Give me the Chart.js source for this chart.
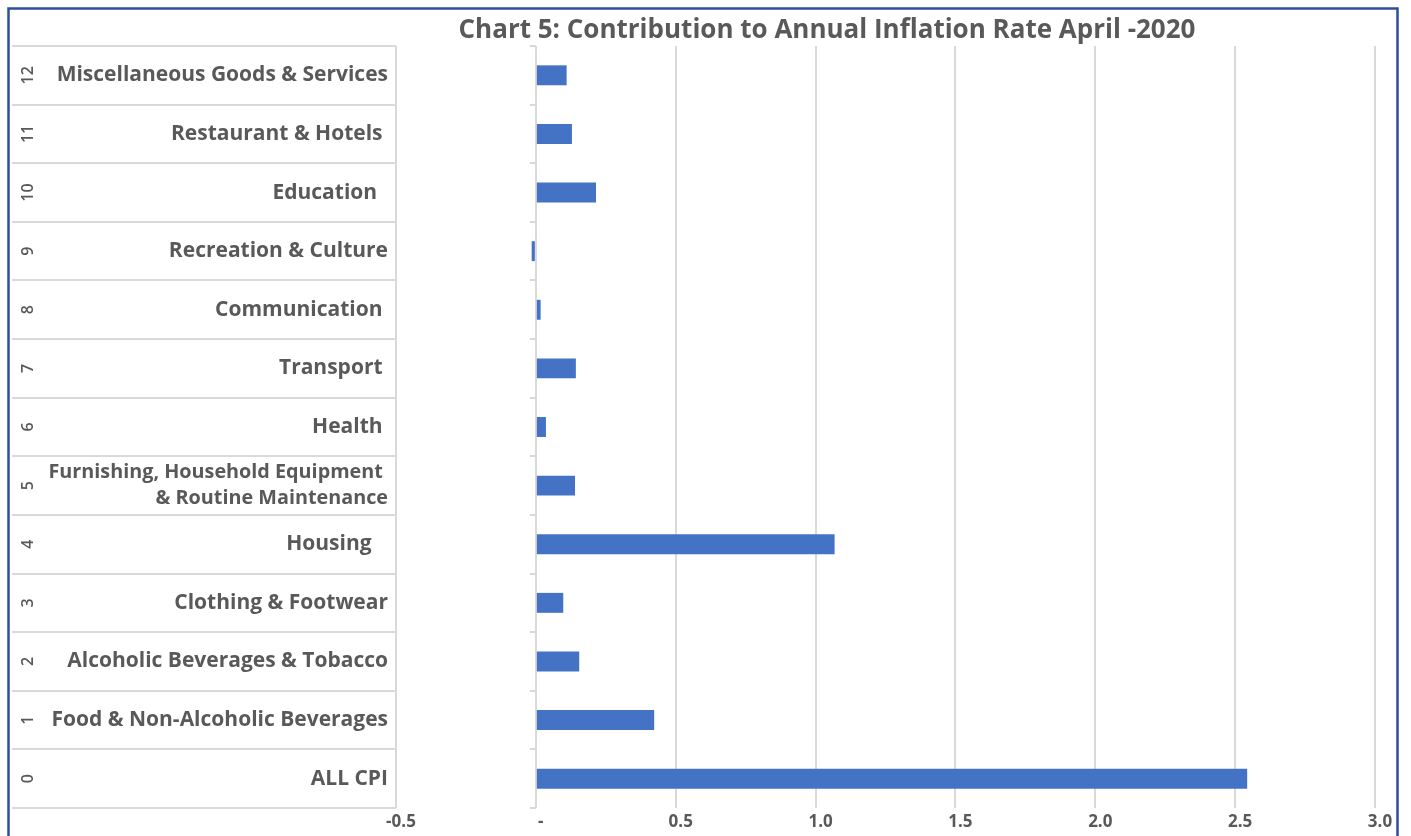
<!DOCTYPE html>
<html>
<head>
<meta charset="utf-8">
<script src="https://cdn.jsdelivr.net/npm/chart.js@4.4.1/dist/chart.umd.min.js"></script>
<style>
  html, body { margin: 0; padding: 0; background: #ffffff; }
  #wrap { width: 1411px; height: 836px; position: relative; }
</style>
</head>
<body>
<div id="wrap"><canvas id="c" width="1411" height="836"></canvas></div>
<script>
// ---- data ----
const chartTitle = 'Chart 5: Contribution to Annual Inflation Rate April -2020';
const rowNumbers = ['0', '1', '2', '3', '4', '5', '6', '7', '8', '9', '10', '11', '12'];
const categories = [
  'ALL CPI',
  'Food & Non-Alcoholic Beverages',
  'Alcoholic Beverages & Tobacco',
  'Clothing & Footwear',
  'Housing   ',
  ['Furnishing, Household Equipment ', '& Routine Maintenance'],
  'Health ',
  'Transport ',
  'Communication ',
  'Recreation & Culture',
  'Education  ',
  'Restaurant & Hotels ',
  'Miscellaneous Goods & Services'
];
const contributions = [2.543, 0.423, 0.155, 0.098, 1.068, 0.14, 0.036, 0.143, 0.017, -0.015, 0.215, 0.129, 0.11];
const xTickValues = [-0.5, 0, 0.5, 1.0, 1.5, 2.0, 2.5, 3.0];
const xTickLabels = ['-0.5', '-', '0.5', '1.0', '1.5', '2.0', '2.5', '3.0'];

const FONT = '"Open Sans", Lato, "DejaVu Sans", sans-serif';
const TEXT = '#595959';
const GRID = '#d9d9d9';

const decorPlugin = {
  id: 'decor',
  beforeDatasetsDraw(chart) {
    const ctx = chart.ctx;
    const ys = chart.scales.y;
    const xs = chart.scales.x;
    const area = chart.chartArea;
    const n = categories.length;
    const step = (area.bottom - area.top) / n;
    ctx.save();
    // table horizontal lines
    ctx.strokeStyle = GRID;
    ctx.lineWidth = 2;
    for (let k = 0; k <= n; k++) {
      const y = Math.round(area.top + k * step);
      ctx.beginPath();
      ctx.moveTo(12, y);
      ctx.lineTo(area.left, y);
      ctx.stroke();
    }
    // small ticks at the zero axis
    const x0 = xs.getPixelForValue(0);
    for (let k = 0; k <= n; k++) {
      const y = Math.round(area.top + k * step);
      ctx.beginPath();
      ctx.moveTo(x0 - 6, y);
      ctx.lineTo(x0, y);
      ctx.stroke();
    }
    // rotated row numbers
    ctx.fillStyle = TEXT;
    ctx.font = '600 16px ' + FONT;
    ctx.textAlign = 'center';
    ctx.textBaseline = 'middle';
    for (let i = 0; i < n; i++) {
      const yc = ys.getPixelForValue(i);
      ctx.save();
      ctx.translate(28, yc);
      ctx.rotate(-Math.PI / 2);
      ctx.fillText(rowNumbers[i], 0, 0);
      ctx.restore();
    }
    ctx.restore();
  },
  afterDraw(chart) {
    const ctx = chart.ctx;
    ctx.save();
    // title
    ctx.fillStyle = TEXT;
    ctx.font = 'bold 26px ' + FONT;
    ctx.textAlign = 'center';
    ctx.textBaseline = 'middle';
    ctx.fillText(chartTitle, 827, 31);
    // outer border
    ctx.strokeStyle = '#2f4d9c';
    ctx.lineWidth = 2.5;
    ctx.strokeRect(8.5, 8.5, 1389, 900);
    ctx.restore();
  }
};

new Chart(document.getElementById('c'), {
  type: 'bar',
  data: {
    labels: categories,
    datasets: [{
      data: contributions,
      backgroundColor: '#4472c4',
      borderWidth: 0,
      categoryPercentage: 1,
      barPercentage: 0.34
    }]
  },
  options: {
    indexAxis: 'y',
    responsive: false,
    animation: false,
    layout: { padding: { top: 46, right: 36, left: 0, bottom: 0 } },
    plugins: { legend: { display: false }, title: { display: false }, tooltip: { enabled: false } },
    scales: {
      x: {
        type: 'linear',
        min: -0.5,
        max: 3.0,
        afterBuildTicks(scale) { scale.ticks = xTickValues.map(v => ({ value: v })); },
        afterFit(scale) { scale.height = 28; },
        grid: { color: GRID, lineWidth: 2, drawTicks: false },
        border: { display: false },
        ticks: {
          padding: 4,
          labelOffset: 5,
          color: TEXT,
          font: { family: FONT, size: 17, weight: 'bold' },
          callback(value) {
            const idx = xTickValues.indexOf(value);
            return idx >= 0 ? xTickLabels[idx] : '';
          }
        }
      },
      y: {
        type: 'category',
        reverse: true,
        afterFit(scale) { scale.width = 396; },
        grid: { display: false, drawTicks: false },
        border: { display: false },
        ticks: {
          padding: 8,
          color: TEXT,
          font(c) {
            const multi = Array.isArray(categories[c.index]);
            return { family: FONT, size: multi ? 19.8 : 21, weight: 'bold', lineHeight: 1.3 };
          }
        }
      }
    }
  },
  plugins: [decorPlugin]
});
</script>
</body>
</html>
